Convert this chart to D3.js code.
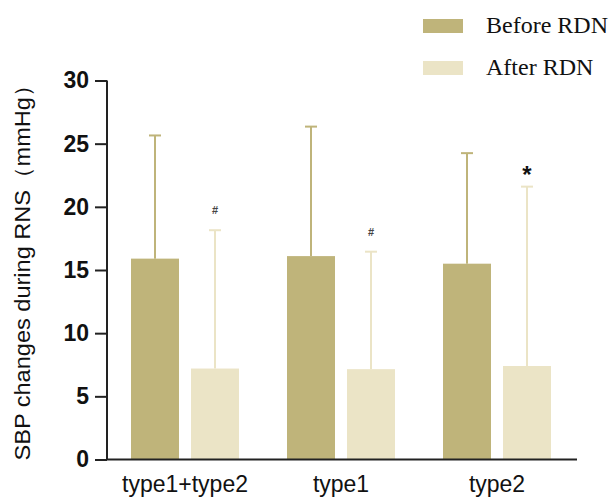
<!DOCTYPE html>
<html><head><meta charset="utf-8">
<script src="https://cdn.jsdelivr.net/npm/d3@7"></script>
<style>body{margin:0;background:#fff}</style>
</head><body>
<svg id="chart" width="612" height="501"></svg>
<script>
const categories = ["type1+type2", "type1", "type2"];
const seriesNames = ["Before RDN", "After RDN"];
const beforeMean = [15.9, 16.1, 15.5];
const beforeSD = [9.75, 10.25, 8.75];
const afterMean = [7.2, 7.15, 7.4];
const afterSD = [10.95, 9.3, 14.2];
const annotations = ["#", "#", "*"];
const yTicks = [0, 5, 10, 15, 20, 25, 30];
const colors = ["#BFB47A", "#EBE4C6"];

const svg = d3.select("#chart");
const x = d3.scaleBand().domain(categories).range([107, 575]).padding(0);
const y = d3.scaleLinear().domain([0, 30]).range([459.5, 80.5]);
const barW = 48, gap = 12;

const data = [];
categories.forEach((c, i) => {
  data.push({c, s: 0, m: beforeMean[i], sd: beforeSD[i]});
  data.push({c, s: 1, m: afterMean[i], sd: afterSD[i], ann: annotations[i]});
});
const bx = d => x(d.c) + x.bandwidth()/2 + (d.s === 0 ? -gap/2 - barW : gap/2);

// error bars
const eg = svg.append("g");
data.forEach(d => {
  const cx = bx(d) + barW/2;
  eg.append("line").attr("x1", cx).attr("x2", cx).attr("y1", y(d.m)).attr("y2", y(d.m + d.sd))
    .attr("stroke", colors[d.s]).attr("stroke-width", 2);
  eg.append("line").attr("x1", cx - 6).attr("x2", cx + 6).attr("y1", y(d.m + d.sd)).attr("y2", y(d.m + d.sd))
    .attr("stroke", colors[d.s]).attr("stroke-width", 2);
});

svg.append("g").selectAll("rect").data(data).join("rect")
  .attr("x", bx).attr("width", barW)
  .attr("y", d => y(d.m)).attr("height", d => y(0) - y(d.m))
  .attr("fill", d => colors[d.s]);

// annotations
data.filter(d => d.ann).forEach(d => {
  const cx = bx(d) + barW/2;
  const star = d.ann === "*";
  svg.append("text").attr("x", cx).attr("y", y(d.m + d.sd) - (star ? 4 : 16))
    .attr("text-anchor", "middle")
    .attr("font-family", "Arial, Liberation Sans, sans-serif")
    .attr("font-size", star ? 24 : 11).attr("font-weight", "bold")
    .attr("fill", star ? "#111" : "#444").text(d.ann);
});

// y axis
const yAxis = svg.append("g").attr("transform", "translate(107,0)")
  .call(d3.axisLeft(y).tickValues(yTicks).tickSize(12).tickPadding(6));
yAxis.select(".domain").attr("stroke", "#222").attr("stroke-width", 2).attr("d", "M0,80.5V459.5");
yAxis.selectAll(".tick line").attr("stroke", "#222").attr("stroke-width", 2);
yAxis.selectAll(".tick text").attr("font-family", "Arial, Liberation Sans, sans-serif")
  .attr("font-size", 23).attr("font-weight", "bold").attr("fill", "#111");

// x axis
const xAxis = svg.append("g").attr("transform", "translate(0,459.5)")
  .call(d3.axisBottom(x).tickSize(0).tickPadding(12));
xAxis.select(".domain").attr("stroke", "#222").attr("stroke-width", 2).attr("d", "M106,0H577");
xAxis.selectAll(".tick text").attr("font-family", "Arial, Liberation Sans, sans-serif")
  .attr("font-size", 23).attr("fill", "#111").attr("dy", "0.9em");

// y title
svg.append("text").attr("transform", "translate(30,267) rotate(-90)")
  .attr("text-anchor", "middle")
  .attr("font-family", "Arial, Liberation Sans, sans-serif")
  .attr("font-size", 22).attr("fill", "#111")
  .attr("textLength", 387).attr("lengthAdjust", "spacingAndGlyphs")
  .text("SBP changes during RNS（mmHg）");

// legend
const lg = svg.append("g");
seriesNames.forEach((n, i) => {
  const ly = 19 + i * 42;
  lg.append("rect").attr("x", 423).attr("y", ly).attr("width", 40).attr("height", 14).attr("fill", colors[i]);
  lg.append("text").attr("x", 486).attr("y", ly + 14)
    .attr("font-family", "Liberation Serif, Times New Roman, serif")
    .attr("font-size", 24).attr("fill", "#111").text(n);
});
</script>
</body></html>
